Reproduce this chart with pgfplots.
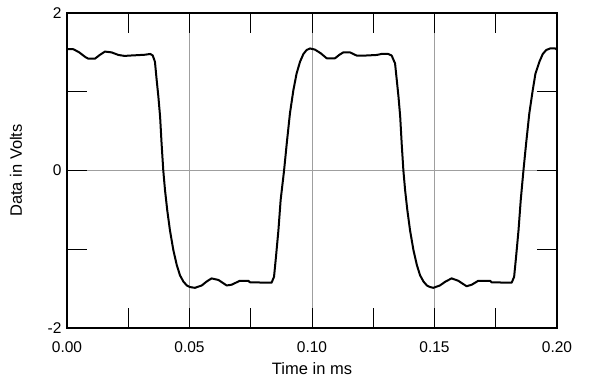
\documentclass[border=0pt]{standalone}
\usepackage{fontspec}
\setmainfont{Liberation Sans}
\usepackage{pgfplots}
\pgfplotsset{compat=1.18}
\begin{document}
\begin{tikzpicture}
\path[use as bounding box] (-67bp,-57bp) rectangle (533bp,328bp);
\begin{axis}[
  scale only axis, width=490bp, height=315bp,
  at={(0,0)}, anchor=south west,
  xmin=0, xmax=0.2, ymin=-2, ymax=2,
  xtick={0,0.05,0.1,0.15,0.2},
  xticklabels={0.00,0.05,0.10,0.15,0.20},
  minor xtick={0.025,0.075,0.125,0.175},
  ytick={-2,0,2}, yticklabels={-2,0,2},
  minor ytick={-1,1},
  tick align=inside,
  major tick length=20bp, minor tick length=20bp,
  tick style={black, line width=1bp},
  grid=major,
  major grid style={gray!75, line width=0.7bp},
  axis line style={black, line width=1.8bp},
  tick label style={font=\fontsize{15.5bp}{18bp}\selectfont},
  xticklabel style={yshift=-10bp},
  yticklabel style={xshift=-2bp},
  xlabel={Time in ms},
  ylabel={Data in Volts},
  every axis x label/.style={at={(axis description cs:0.5,0)}, yshift=-41bp, anchor=center, font=\fontsize{16.5bp}{19bp}\selectfont},
  every axis y label/.style={at={(axis description cs:0,0.5)}, xshift=-51bp, rotate=90, anchor=center, font=\fontsize{16.5bp}{19bp}\selectfont},
]
\addplot[black, line width=2bp, line join=round] table {
x y
0 1.54
0.0026 1.54
0.005 1.50
0.0075 1.44
0.0087 1.42
0.0114 1.42
0.0135 1.47
0.0155 1.51
0.0182 1.50
0.0210 1.467
0.0235 1.455
0.026 1.46
0.029 1.465
0.0318 1.47
0.0340 1.48
0.0350 1.46
0.0359 1.38
0.0366 1.149
0.0373 0.937
0.0380 0.683
0.0386 0.345
0.0393 0.0
0.0400 -0.248
0.0409 -0.50
0.0420 -0.756
0.0434 -1.01
0.0448 -1.20
0.0461 -1.33
0.0475 -1.41
0.0489 -1.46
0.0502 -1.48
0.0522 -1.49
0.055 -1.46
0.057 -1.41
0.059 -1.37
0.0618 -1.39
0.0652 -1.46
0.0672 -1.45
0.0706 -1.40
0.0740 -1.40
0.0747 -1.42
0.0835 -1.425
0.0845 -1.35
0.0853 -1.095
0.0863 -0.756
0.0872 -0.375
0.0886 0.0
0.0897 0.345
0.0910 0.726
0.0924 1.02
0.0937 1.23
0.0951 1.38
0.0965 1.48
0.0978 1.53
0.0992 1.55
0.1012 1.535
0.1035 1.49
0.1060 1.425
0.1094 1.425
0.1112 1.47
0.1128 1.50
0.1155 1.50
0.1182 1.46
0.1220 1.46
0.1264 1.467
0.1284 1.48
0.1311 1.48
0.1325 1.46
0.1339 1.36
0.1346 1.149
0.1353 0.937
0.1360 0.683
0.1366 0.345
0.1373 0.0
0.1380 -0.248
0.1389 -0.50
0.1400 -0.756
0.1414 -1.01
0.1428 -1.20
0.1441 -1.33
0.1455 -1.41
0.1469 -1.46
0.1482 -1.48
0.1495 -1.49
0.1522 -1.46
0.1545 -1.41
0.1570 -1.37
0.1597 -1.40
0.1631 -1.47
0.1652 -1.45
0.1679 -1.40
0.1727 -1.40
0.1733 -1.42
0.1815 -1.425
0.1825 -1.35
0.1833 -1.095
0.1843 -0.756
0.1852 -0.375
0.1863 0.0
0.1874 0.345
0.1887 0.726
0.1901 1.02
0.1912 1.23
0.1928 1.38
0.1942 1.48
0.1956 1.53
0.1972 1.55
0.1992 1.55
0.2 1.535
};
\end{axis}
\end{tikzpicture}
\end{document}
